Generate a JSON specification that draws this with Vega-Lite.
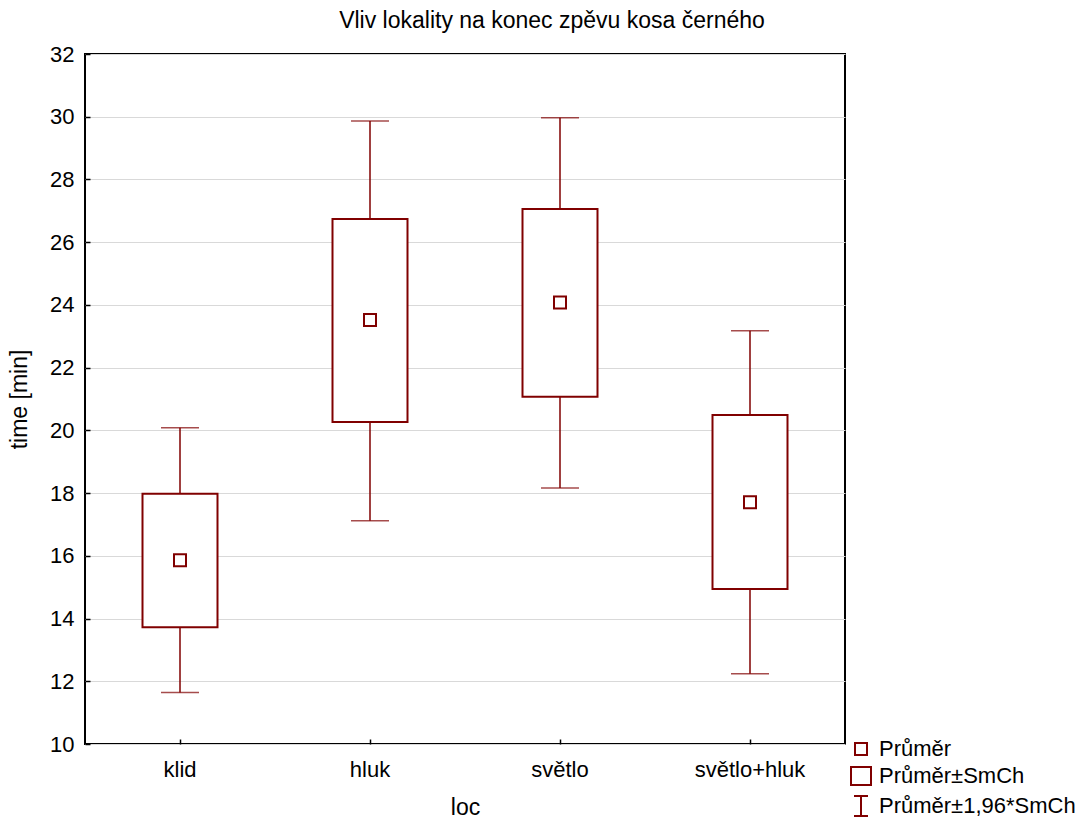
{
  "$schema": "https://vega.github.io/schema/vega-lite/v6.json",
  "autosize": {"type": "none"},
  "padding": {"left": 85, "top": 54, "right": 245, "bottom": 74},
  "width": 760,
  "height": 690,
  "background": "white",
  "config": {
    "font": "Liberation Sans",
    "view": {"stroke": "#000000", "strokeWidth": 2}
  },
  "title": {
    "text": "Vliv lokality na konec zpěvu kosa černého",
    "fontSize": 23,
    "fontWeight": "normal",
    "color": "#000000",
    "anchor": "middle",
    "dx": 87,
    "offset": 10
  },
  "data": {
    "values": [
      {"loc": "klid", "mean": 15.86, "se_lo": 13.72, "se_hi": 17.98, "ci_lo": 11.64, "ci_hi": 20.08},
      {"loc": "hluk", "mean": 23.52, "se_lo": 20.27, "se_hi": 26.74, "ci_lo": 17.12, "ci_hi": 29.86},
      {"loc": "světlo", "mean": 24.08, "se_lo": 21.07, "se_hi": 27.06, "ci_lo": 18.16, "ci_hi": 29.97},
      {"loc": "světlo+hluk", "mean": 17.71, "se_lo": 14.94, "se_hi": 20.49, "ci_lo": 12.24, "ci_hi": 23.18}
    ]
  },
  "encoding": {
    "x": {
      "field": "loc",
      "type": "nominal",
      "sort": null,
      "scale": {"paddingInner": 0, "paddingOuter": 0},
      "axis": {
        "title": "loc",
        "labelAngle": 0,
        "labelFontSize": 22,
        "labelColor": "#000000",
        "titleFontSize": 23,
        "titleFontWeight": "normal",
        "titleColor": "#000000",
        "titlePadding": 16,
        "domain": false,
        "tickSize": -5,
        "tickColor": "#000000",
        "tickWidth": 1.5,
        "labelPadding": 20,
        "grid": false
      }
    }
  },
  "layer": [
    {
      "mark": {"type": "rule", "color": "#800000", "strokeWidth": 1.5},
      "encoding": {
        "y": {
          "field": "ci_lo",
          "type": "quantitative",
          "scale": {"domain": [10, 32], "nice": false, "zero": false},
          "axis": {
            "title": "time [min]",
            "values": [10, 12, 14, 16, 18, 20, 22, 24, 26, 28, 30, 32],
            "labelFontSize": 22,
            "labelColor": "#000000",
            "titleFontSize": 23,
            "titleFontWeight": "normal",
            "titleColor": "#000000",
            "titlePadding": 18,
            "domain": false,
            "tickSize": -5,
            "tickColor": "#000000",
            "tickWidth": 1.5,
            "labelPadding": 16,
            "grid": true,
            "gridColor": "#d9d9d9",
            "gridWidth": 1
          }
        },
        "y2": {"field": "ci_hi"}
      }
    },
    {
      "mark": {"type": "tick", "color": "#800000", "size": 38, "thickness": 1.5},
      "encoding": {"y": {"field": "ci_lo", "type": "quantitative"}}
    },
    {
      "mark": {"type": "tick", "color": "#800000", "size": 38, "thickness": 1.5},
      "encoding": {"y": {"field": "ci_hi", "type": "quantitative"}}
    },
    {
      "mark": {"type": "bar", "width": 75, "fill": "white", "stroke": "#800000", "strokeWidth": 2},
      "encoding": {
        "y": {"field": "se_lo", "type": "quantitative"},
        "y2": {"field": "se_hi"}
      }
    },
    {
      "mark": {"type": "point", "filled": false, "color": "#800000", "strokeWidth": 2, "size": 400, "opacity": 1},
      "encoding": {
        "y": {"field": "mean", "type": "quantitative"},
        "shape": {
          "datum": "Průměr",
          "type": "nominal",
          "scale": {
            "domain": ["Průměr", "Průměr±SmCh", "Průměr±1,96*SmCh"],
            "range": [
              "M-0.6,-0.6H0.6V0.6H-0.6Z",
              "M-1,-0.9H1V0.9H-1Z",
              "M-0.7,-1L0.7,-1M0,-1L0,1M-0.7,1L0.7,1"
            ]
          },
          "legend": {
            "title": null,
            "orient": "none",
            "legendX": 765,
            "legendY": 684,
            "padding": 0,
            "symbolSize": 400,
            "symbolStrokeColor": "#800000",
            "symbolFillColor": "transparent",
            "symbolStrokeWidth": 2,
            "symbolOpacity": 1,
            "labelFontSize": 22,
            "labelColor": "#000000",
            "labelOffset": 7,
            "labelLimit": 0,
            "rowPadding": 3
          }
        }
      }
    }
  ]
}
